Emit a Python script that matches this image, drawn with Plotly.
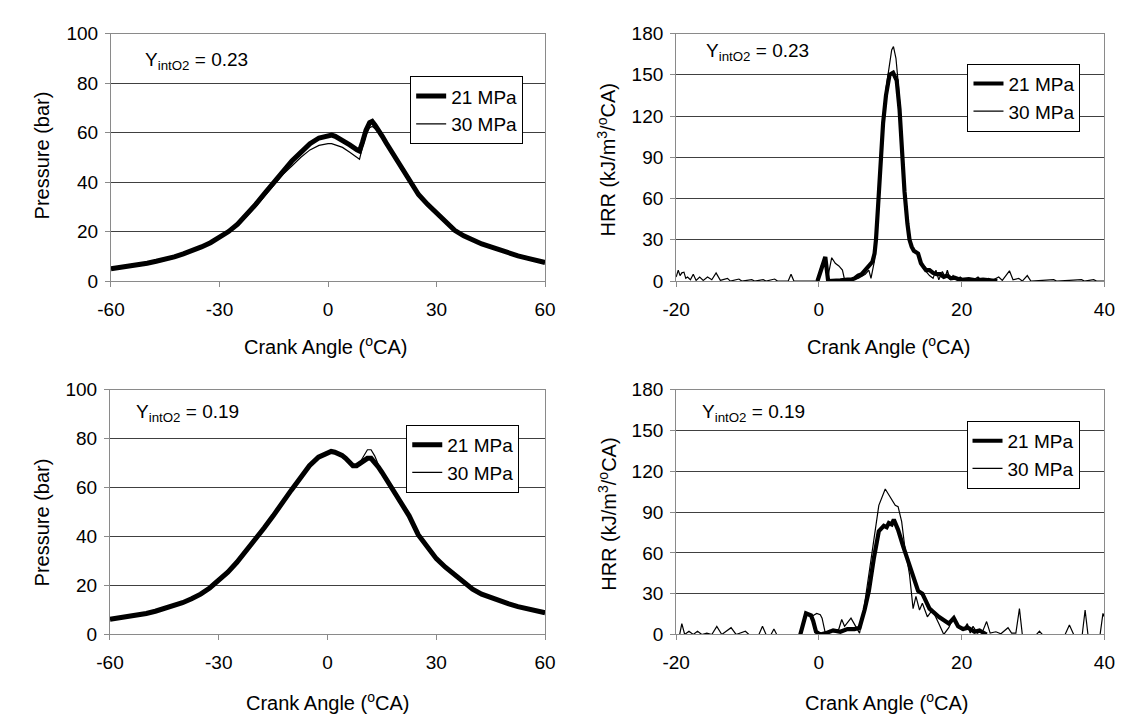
import plotly.graph_objects as go

# ---------------- data ----------------
# Pressure, Y_intO2 = 0.23
ca_p1 = [-60, -57.5, -55, -52.5, -50, -47.5, -45, -42.5, -40, -37.5, -35, -32.5, -30, -27.5, -25, -22.5, -20,
         -17.5, -15, -12.5, -10, -7.5, -5, -2.5, 0, 1, 2, 4, 6, 8, 8.7, 9.5, 10.5, 11.5, 12.2, 13, 14, 15, 16,
         17.5, 20, 22.5, 25, 27.5, 30, 32.5, 35, 37.5, 40, 42.5, 45, 47.5, 50, 52.5, 55, 57.5, 60]
p21_1 = [5, 5.5, 6, 6.6, 7.2, 8, 8.8, 9.8, 11, 12.3, 13.8, 15.5, 17.5, 20, 23, 26.8, 31,
         35.5, 40, 44.5, 48.5, 52, 55.5, 57.8, 59, 59, 58.5, 57, 55, 53, 52.5, 56, 61, 64, 64.5, 63, 61, 58.5, 56,
         52.5, 46, 40, 35, 31, 27.5, 24, 20.5, 18.3, 16.5, 15, 13.8, 12.5, 11.3, 10.2, 9.3, 8.3, 7.5]
p30_1 = [5, 5.5, 6, 6.6, 7.2, 8, 8.8, 9.8, 11, 12.3, 13.8, 15.5, 17.4, 19.8, 22.6, 26.2, 30,
         34.3, 38.5, 43, 46.5, 50, 53, 54.8, 55.5, 55.5, 55, 54, 52, 50, 49.2, 54, 59, 62, 62.5, 61.5, 60, 57.8, 55.5,
         52.2, 46, 40, 35, 31, 27.5, 24, 20.5, 18.3, 16.5, 15, 13.8, 12.5, 11.3, 10.2, 9.3, 8.3, 7.5]

# Pressure, Y_intO2 = 0.19
ca_p3 = [-60, -57.5, -55, -52.5, -50, -47.5, -45, -42.5, -40, -37.5, -35, -32.5, -30, -27.5, -25, -22.5, -20,
         -17.5, -15, -12.5, -10, -7.5, -5, -2.5, 0, 1, 2, 3, 4, 5, 6, 7, 8, 9, 10, 11, 12, 13, 14, 15, 16, 17.5,
         20, 22.5, 25, 27.5, 30, 32.5, 35, 37.5, 40, 42.5, 45, 47.5, 50, 52.5, 55, 57.5, 60]
p21_3 = [6.2, 6.7, 7.3, 7.9, 8.6, 9.5, 10.5, 11.7, 13, 14.6, 16.5, 19, 22, 25.5, 29.5, 34, 38.5,
         43.5, 48.5, 54, 59, 64, 69, 72.5, 74.5, 74.8, 74.5, 74, 73.2, 72, 70.5, 69, 69, 70, 71.5, 72, 72, 70.5,
         68.5, 66.3, 64, 60.5, 55, 48.5, 40.8, 35.5, 31, 27.5, 24.5, 21.3, 18.5, 16.5, 15, 13.7, 12.5, 11.4,
         10.5, 9.7, 8.9]
p30_3 = [6.2, 6.7, 7.3, 7.9, 8.6, 9.5, 10.5, 11.7, 13, 14.6, 16.5, 19, 22, 25.5, 29.5, 34, 38.5,
         43.5, 48.5, 54, 59, 64, 69, 72.5, 74.5, 74.8, 74.5, 74, 73.2, 72, 70.5, 69, 69, 70.5, 73, 75.5, 75.5,
         73, 69.5, 66.8, 64, 60.5, 55, 48.5, 40.8, 35.5, 31, 27.5, 24.5, 21.3, 18.5, 16.5, 15, 13.7, 12.5, 11.4,
         10.5, 9.7, 8.9]

# HRR, Y_intO2 = 0.23
ca_h21_2 = [-0.2, 0.3, 0.9, 1.3, 2.0, 3.0, 4.0, 4.5, 5.0, 5.5, 6.0, 6.5, 7.0, 7.5, 7.8, 8.0, 8.3, 8.6, 9.0,
            9.4, 9.9, 10.4, 10.9, 11.3, 11.7, 12.0, 12.4, 12.7, 13.0, 13.3, 13.9, 14.3, 14.7, 15.0, 15.5,
            16.0, 16.5, 17.0, 17.5, 18.0, 18.5, 19.0, 19.5, 20.0, 21.0, 22.0, 23.0, 24.0, 25.0]
h21_2 = [0, 8, 17.5, 0, 0.5, 0.5, 1, 1, 2, 4, 5, 8, 10, 14, 20, 30, 55, 85, 115, 135, 150, 151.5, 146, 125,
         90, 65, 42, 30, 25, 22, 20, 13, 10, 8, 8, 6, 5, 5, 3, 4, 2, 2.5, 1.5, 1, 1.5, 0.5, 1, 0.5, 0]
ca_h30_2 = [-20, -19.7, -19.45, -19.2, -18.9, -18.65, -18.4, -18.0, -17.6, -17.2, -16.7, -16.2, -15.6, -15.0,
            -14.4, -13.8, -12.8, -12.4, -11.2, -10.8, -9.4, -9.0, -7.8, -7.4, -6.2, -5.8, -4.3, -3.9, -3.5,
            -0.3, 0.4, 0.9, 1.3, 1.8, 2.3, 2.8, 3.3, 3.6, 4.5, 5.5, 6.5, 7.0, 7.3, 7.8, 8.0, 8.3, 8.6, 9.0,
            9.4, 9.9, 10.2, 10.45, 10.8, 11.1, 11.4, 11.7, 12.0, 12.4, 12.7, 13.0, 13.3, 13.9, 14.3, 15.0,
            15.5, 16.0, 16.4, 16.8, 17.3, 17.7, 18.0, 18.4, 18.8, 19.3, 19.8, 20.3, 21.0, 21.5, 22.3, 22.8,
            23.8, 24.3, 25.2, 25.7, 26.7, 27.2, 28.0, 28.5, 29.2, 29.7, 32.9, 33.3, 36.8, 37.2, 38.5, 38.9, 40]
h30_2 = [3, 8, 4, 6, 6.5, 2, 3, 1, 5, 0.5, 3, 0.5, 3, 1, 6, 0.5, 2, 0, 1.5, 0, 1, 0, 1, 0, 1.5, 0, 0, 5, 0,
         0, 12, 15, 4, 17, 13, 11, 8, 1, 0.5, 2, 5, 8, 2, 15, 30, 55, 85, 115, 140, 160, 168, 170.5, 162,
         145, 125, 92, 66, 42, 30, 25, 22, 20, 12, 7, 4, 2, 8, 1, 7, 3, 8, 1, 4, 1, 3, 1, 2, 0.5, 3, 0.5,
         2, 0.5, 3, 0.5, 7.5, 1, 2, 0, 4, 0, 1, 0, 1, 0, 1, 0, 0]

# HRR, Y_intO2 = 0.19
ca_h21_4 = [-2.6, -1.8, -1.1, -0.8, -0.4, 0.2, 1.0, 2.0, 3.0, 4.0, 5.0, 5.7, 6.4, 7.0, 7.7, 8.4, 9.1, 9.5,
            9.8, 10.2, 10.5, 11.1, 11.8, 12.5, 13.2, 13.9, 14.5, 15.5, 16.8, 18.2, 18.9, 19.5, 20.2, 20.9,
            21.8, 22.5, 23.5]
h21_4 = [0, 15.5, 14, 10, 2, 0, 1, 3, 2, 4, 4, 5, 18, 32, 56, 76, 80, 79, 82, 81, 84.5, 77, 65, 54, 42, 32,
         30, 19, 13, 8, 12, 6, 4, 5, 2, 3, 0]
ca_h30_4 = [-20, -19.5, -19.2, -18.8, -18.2, -17.6, -17.0, -16.4, -15.7, -15.0, -14.3, -13.6, -12.3, -11.6,
            -10.3, -9.8, -8.4, -7.9, -7.4, -6.7, -6.3, -5.9, -2.6, -1.8, -1.1, -0.3, 0.2, 0.45, 0.9, 1.5,
            2.2, 2.8, 3.2, 3.6, 4.5, 5.2, 5.7, 6.2, 6.8, 7.7, 8.4, 9.3, 10.0, 10.7, 11.1, 11.6, 12.0, 12.7,
            13.2, 13.6, 14.1, 14.5, 15.2, 15.9, 16.8, 17.5, 18.2, 18.9, 19.5, 20.2, 20.8, 21.2, 21.6, 22.2,
            23.0, 23.5, 24.0, 24.8, 25.5, 26.5, 27.0, 27.6, 28.1, 28.5, 30.5, 30.9, 31.3, 34.5, 35.1, 35.7,
            36.9, 37.3, 37.7, 39.4, 39.8, 40]
h30_4 = [0, 0, 8, 0, 2.4, 0, 2.4, 0, 1, 0, 6, 0, 5, 0, 2.4, 0, 0, 6, 0, 0, 4, 0, 0, 15, 13, 15.5, 14.5, 12,
         1, 3, 2, 4, 11, 6, 12, 5, 1, 15, 37, 73, 95, 107, 101, 95, 94, 83, 66, 44, 19, 28, 18, 23, 13, 18,
         8, 0, 5, 13, 5, 3, 8, 1, 6, 1, 3, 9.5, 1, 2, 0.5, 5, 1, 1, 19, 0, 0, 2.4, 0, 0, 7, 0, 0, 18, 0, 0,
         15.5, 13]

# tick labels
xt_p = [-60, -30, 0, 30, 60]
xt_h = [-20, 0, 20, 40]

# ---------------- figure ----------------
FONT = "Liberation Sans, Arial, sans-serif"
W, H = 1124, 720
fig = go.Figure()

panels = [
    dict(xa="x", ya="y", leg="legend", x=ca_p1, a=p21_1, xb=ca_p1, b=p30_1, tw=5),
    dict(xa="x2", ya="y2", leg="legend2", x=ca_h21_2, a=h21_2, xb=ca_h30_2, b=h30_2, tw=4.2),
    dict(xa="x3", ya="y3", leg="legend3", x=ca_p3, a=p21_3, xb=ca_p3, b=p30_3, tw=5),
    dict(xa="x4", ya="y4", leg="legend4", x=ca_h21_4, a=h21_4, xb=ca_h30_4, b=h30_4, tw=4.2),
]
for p in panels:
    fig.add_trace(go.Scatter(x=p["x"], y=p["a"], mode="lines", name="21 MPa", xaxis=p["xa"], yaxis=p["ya"],
                             legend=p["leg"], line=dict(color="black", width=p["tw"])))
    fig.add_trace(go.Scatter(x=p["xb"], y=p["b"], mode="lines", name="30 MPa", xaxis=p["xa"], yaxis=p["ya"],
                             legend=p["leg"], line=dict(color="black", width=1.2)))

def px_x(v):
    return v / W

def px_y(v):
    return 1 - v / H

dom = {
    1: ([91, 535], [16, 271]),
    2: ([669, 1107], [16, 271]),
    3: ([90, 535], [383, 635]),
    4: ([669, 1107], [383, 635]),
}
xr = {1: [-60, 60], 2: [-20, 40], 3: [-60, 60], 4: [-20, 40]}
xt = {1: xt_p, 2: xt_h, 3: xt_p, 4: xt_h}
yr = {1: [0, 100], 2: [0, 180], 3: [0, 100], 4: [0, 180]}
ydt = {1: 20, 2: 30, 3: 20, 4: 30}

axfont = dict(family=FONT, size=19, color="black")
lay = {}
for i in range(1, 5):
    sx = "" if i == 1 else str(i)
    (x0, x1), (yt, yb) = dom[i]
    lay["xaxis" + sx] = dict(domain=[px_x(x0), px_x(x1)], range=xr[i], tickvals=xt[i],
                             ticktext=[str(v) for v in xt[i]], anchor="y" + sx,
                             showgrid=False, zeroline=False, showline=True, mirror=True, linecolor="#8a8a8a",
                             linewidth=1, ticks="outside", ticklen=5, tickcolor="#8a8a8a",
                             tickfont=axfont, ticklabelstandoff=6)
    lay["yaxis" + sx] = dict(domain=[px_y(yb), px_y(yt)], range=yr[i], dtick=ydt[i], anchor="x" + sx,
                             showgrid=True, gridcolor="#404040", gridwidth=1, zeroline=False, showline=True,
                             mirror=True, linecolor="#8a8a8a", linewidth=1, ticks="outside", ticklen=5,
                             tickcolor="#8a8a8a", tickfont=axfont, ticklabelstandoff=3)

legpos = {"legend": (397, 60), "legend2": (967, 47), "legend3": (393, 419), "legend4": (966, 415)}
for k, (lx, ly) in legpos.items():
    lay[k] = dict(x=px_x(lx), y=px_y(ly), xanchor="left", yanchor="top", bgcolor="white",
                  bordercolor="black", borderwidth=1, font=dict(family=FONT, size=19, color="black"),
                  tracegroupgap=0, itemwidth=30)

ann = []
def add_text(text, x, y, angle=0, xanchor="center", size=19):
    ann.append(dict(text=text, x=px_x(x), y=px_y(y), xref="paper", yref="paper", showarrow=False,
                    textangle=angle, xanchor=xanchor, yanchor="middle",
                    font=dict(family=FONT, size=size, color="black")))

add_text("Pressure (bar)", 20, 142, angle=-90, size=20)
add_text("Pressure (bar)", 20, 520, angle=-90, size=20)
add_text("HRR (kJ/m<sup>3</sup>/<sup>o</sup>CA)", 598, 146, angle=-90, size=20)
add_text("HRR (kJ/m<sup>3</sup>/<sup>o</sup>CA)", 598, 511, angle=-90, size=20)
add_text("Crank Angle (<sup>o</sup>CA)", 310, 337, size=20)
add_text("Crank Angle (<sup>o</sup>CA)", 886, 337, size=20)
add_text("Crank Angle (<sup>o</sup>CA)", 312, 704, size=20)
add_text("Crank Angle (<sup>o</sup>CA)", 884, 704, size=20)
add_text("Y<sub>intO2</sub> = 0.23", 124, 44, xanchor="left")
add_text("Y<sub>intO2</sub> = 0.23", 698, 35, xanchor="left")
add_text("Y<sub>intO2</sub> = 0.19", 115, 407, xanchor="left")
add_text("Y<sub>intO2</sub> = 0.19", 693, 407, xanchor="left")

fig.update_layout(width=W, height=H, margin=dict(l=0, r=0, t=0, b=0), paper_bgcolor="white",
                  plot_bgcolor="white", font=dict(family=FONT, color="black"), annotations=ann,
                  showlegend=True, **lay)

fig.write_html("out.html")
